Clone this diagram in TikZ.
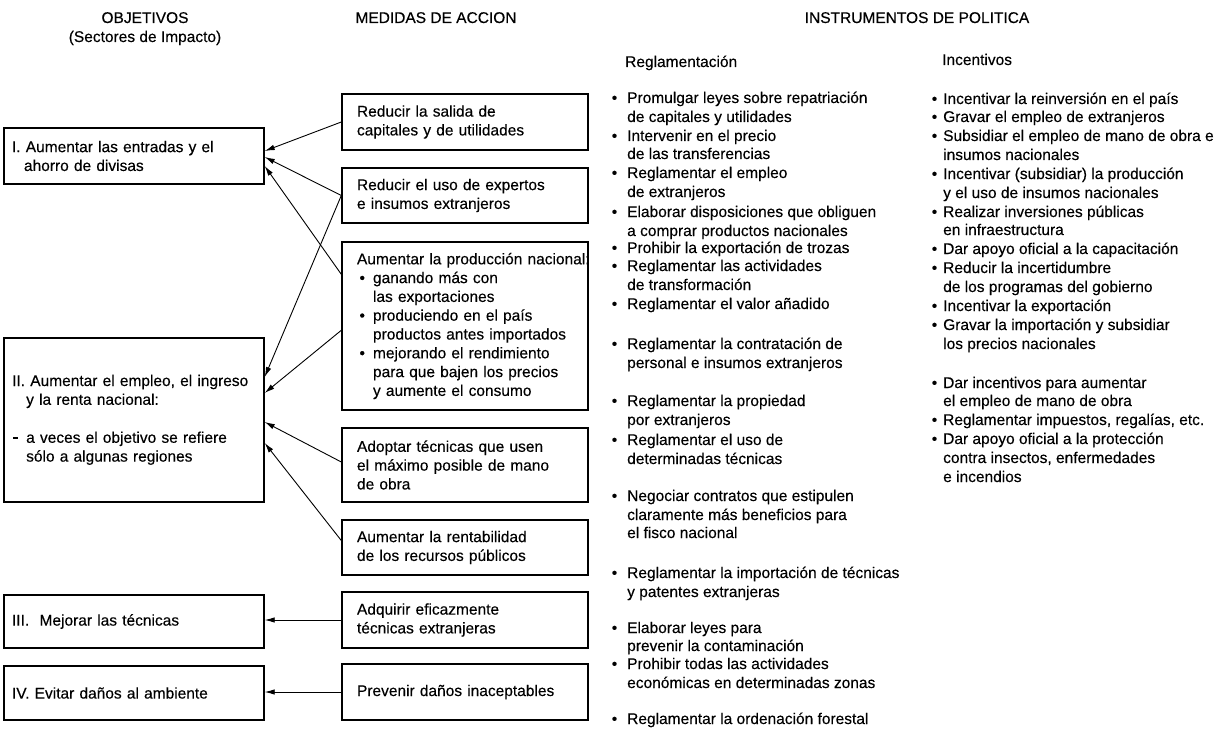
\documentclass[tikz,border=0pt]{standalone}
\usepackage{fontspec}
\setmainfont{Liberation Sans}[FakeBold=0.3]
\usetikzlibrary{arrows.meta}
\newcommand\mbul{\makebox[16pt][l]{\hspace{2.5pt}•}}
\newcommand\mind{\hspace*{16pt}}
\tikzset{
  basefont/.style={font=\fontsize{15.5}{18.8}\selectfont},
  lbox/.style={basefont, draw, line width=1.4pt, minimum width=260pt, text width=244pt, inner xsep=8pt, inner ysep=0pt, align=left},
  mbox/.style={basefont, draw, line width=1.4pt, minimum width=246pt, text width=216pt, inner xsep=15pt, inner ysep=0pt, align=left},
  txt/.style={basefont, inner sep=0pt, anchor=base west},
  hdr/.style={basefont, inner sep=0pt, anchor=base},
  conn/.style={line width=0.9pt, -{Latex[length=10pt,width=5.5pt]}},
}
\begin{document}
\begin{tikzpicture}[x=1pt,y=-1pt]
\useasboundingbox (0,0) rectangle (1218,733);

% headers
\node[hdr] (h1) at (145,23) {OBJETIVOS};
\node[hdr] (h2) at (145,42) {(Sectores de Impacto)};
\node[hdr] (h3) at (436,23) {MEDIDAS DE ACCION};
\node[hdr] (h4) at (917,23) {INSTRUMENTOS DE POLITICA};
\node[txt] (h5) at (625,67) {Reglamentación};
\node[txt] (h6) at (942,65) {Incentivos};

% objectives
\node[lbox, minimum height=56pt] (nI) at (134,156) {I.~Aumentar las entradas y el\\\hspace*{12pt}ahorro de divisas};
\node[lbox, minimum height=164pt] (nII) at (134,420) {};
\node[txt, text width=244pt, align=left] (tII) at (12,386) {II.~Aumentar el empleo, el ingreso\\\hspace*{14pt}y la renta nacional:\\[19.2pt]\makebox[14pt][l]{\hspace{1pt}\raisebox{3.5pt}{\rule{4.5pt}{2.5pt}}}a veces el objetivo se refiere\\\hspace*{14pt}sólo a algunas regiones};
\node[lbox, minimum height=53pt] (nIII) at (134,621.5) {III.\ \ Mejorar las técnicas};
\node[lbox, minimum height=54pt] (nIV) at (134,693) {IV. Evitar daños al ambiente};

% measures
\node[mbox, minimum height=56pt] (m1) at (465,122) {Reducir la salida de\\capitales y de utilidades};
\node[mbox, minimum height=55pt] (m2) at (465,195.5) {Reducir el uso de expertos\\e insumos extranjeros};
\node[mbox, minimum height=168pt] (m3) at (465,326) {\mbox{Aumentar la producción nacional:}\\\mbul ganando más con\\\mind las exportaciones\\\mbul produciendo en el país\\\mind productos antes importados\\\mbul mejorando el rendimiento\\\mind para que bajen los precios\\\mind y aumente el consumo};
\node[mbox, minimum height=74pt] (m4) at (465,465) {Adoptar técnicas que usen\\el máximo posible de mano\\de obra};
\node[mbox, minimum height=55pt] (m5) at (465,547.5) {Aumentar la rentabilidad\\de los recursos públicos};
\node[mbox, minimum height=56pt] (m6) at (465,620) {Adquirir eficazmente\\técnicas extranjeras};
\node[mbox, minimum height=56pt] (m7) at (465,692) {Prevenir daños inaceptables};

% connectors
\draw[conn] (m1.west) -- ([yshift=5pt]nI.east);
\draw[conn] (m2.west) -- ([yshift=-1pt]nI.east);
\draw[conn] ([yshift=-33pt]m3.north west) -- ([yshift=-10pt]nI.east);
\draw[conn] (m2.west) -- ([yshift=43pt]nII.east);
\draw[conn] ([yshift=-89pt]m3.north west) -- ([yshift=27pt]nII.east);
\draw[conn] ([yshift=3pt]m4.west) -- ([yshift=-2pt]nII.east);
\draw[conn] ([yshift=7pt]m5.west) -- ([yshift=-23pt]nII.east);
\draw[conn] (m6.west) -- (m6.west -| nIII.east);
\draw[conn] (m7.west) -- (m7.west -| nIV.east);

% instruments: regulation
\foreach \yy/\bb/\ltxt [count=\i] in {
103/1/Promulgar leyes sobre repatriación,
122/0/de capitales y utilidades,
141/1/Intervenir en el precio,
159/0/de las transferencias,
178/1/Reglamentar el empleo,
197/0/de extranjeros,
217/1/Elaborar disposiciones que obliguen,
236/0/a comprar productos nacionales,
253/1/Prohibir la exportación de trozas,
271/1/Reglamentar las actividades,
290/0/de transformación,
309/1/Reglamentar el valor añadido,
349/1/Reglamentar la contratación de,
368/0/personal e insumos extranjeros,
406/1/Reglamentar la propiedad,
425/0/por extranjeros,
445/1/Reglamentar el uso de,
464/0/determinadas técnicas,
501/1/Negociar contratos que estipulen,
520/0/claramente más beneficios para,
538/0/el fisco nacional,
578/1/Reglamentar la importación de técnicas,
597/0/y patentes extranjeras,
633/1/Elaborar leyes para,
651/0/prevenir la contaminación,
669/1/Prohibir todas las actividades,
688/0/económicas en determinadas zonas,
724/1/Reglamentar la ordenación forestal}
  \node[txt] (a\i) at (627,\yy) {\ifnum\bb=1 \llap{•\hspace{10pt}}\fi\ltxt};

% instruments: incentives
\foreach \yy/\bb/\ltxt [count=\i] in {
104/1/Incentivar la reinversión en el país,
122/1/Gravar el empleo de extranjeros,
141/1/Subsidiar el empleo de mano de obra e,
160/0/insumos nacionales,
179/1/Incentivar (subsidiar) la producción,
198/0/y el uso de insumos nacionales,
217/1/Realizar inversiones públicas,
235/0/en infraestructura,
254/1/Dar apoyo oficial a la capacitación,
273/1/Reducir la incertidumbre,
292/0/de los programas del gobierno,
311/1/Incentivar la exportación,
330/1/Gravar la importación y subsidiar,
349/0/los precios nacionales,
388/1/Dar incentivos para aumentar,
406/0/el empleo de mano de obra,
425/1/{Reglamentar impuestos, regalías, etc.},
444/1/Dar apoyo oficial a la protección,
463/0/{contra insectos, enfermedades},
482/0/e incendios}
  \node[txt] (b\i) at (943,\yy) {\ifnum\bb=1 \llap{•\hspace{6pt}}\fi\ltxt};
\end{tikzpicture}
\end{document}
